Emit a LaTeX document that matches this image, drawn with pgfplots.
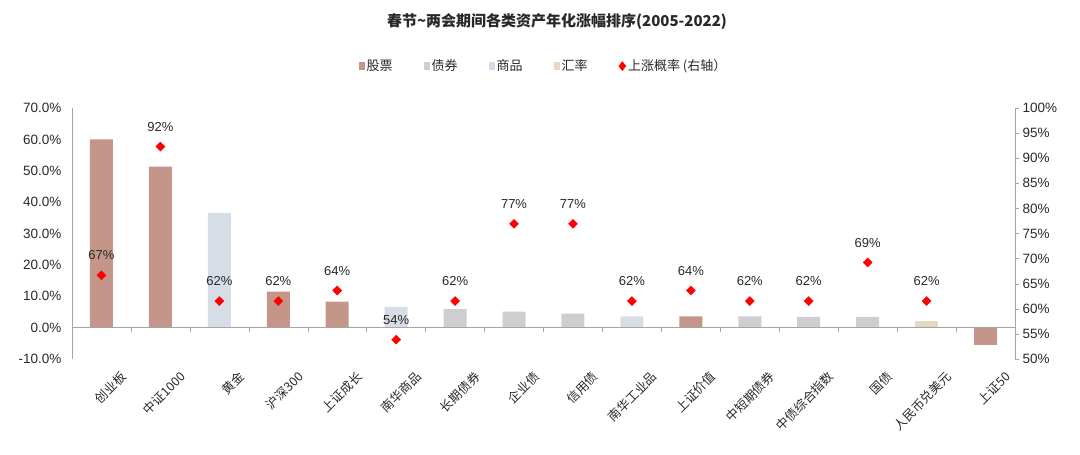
\documentclass[border=0pt]{standalone}
\usepackage{fontspec}
\setmainfont{Liberation Sans}
\newfontfamily\cjk{Noto Sans CJK SC}
\usepackage{pgfplots}
\pgfplotsset{compat=1.18}
\definecolor{gupiao}{RGB}{196,150,137}
\definecolor{zhaiquan}{RGB}{207,205,205}
\definecolor{shangpin}{RGB}{214,221,231}
\definecolor{huilv}{RGB}{231,216,192}
\definecolor{axgray}{RGB}{165,165,165}
\definecolor{txt}{RGB}{40,40,40}
\begin{document}
\begin{tikzpicture}[x=1pt,y=1pt]
\path[use as bounding box] (0,0) rectangle (1080,455);
\node[font=\cjk\bfseries\fontsize{15}{15}\selectfont, text=txt] at (557,433) {春节\textasciitilde 两会期间各类资产年化涨幅排序(2005-2022)};
\begin{axis}[
  at={(72pt,96pt)}, anchor=south west, scale only axis,
  width=943pt, height=251pt,
  xmin=-0.5, xmax=15.5, ymin=-10, ymax=70,
  axis y line*=left, axis x line*=bottom,
  x axis line style={draw=none},
  y axis line style={axgray},
  ytick={-10,0,...,70},
  /pgf/number format/assume math mode=true,
  yticklabel={\pgfmathprintnumber[fixed,fixed zerofill,precision=1]{\tick}\%},
  yticklabel style={font=\fontsize{13.5}{13.5}\selectfont, text=txt, xshift=-7pt},
  major tick length=0pt,
  xtick={0,...,15},
  xticklabels={创业板,中证1000,黄金,沪深300,上证成长,南华商品,长期债券,企业债,信用债,南华工业品,上证价值,中短期债券,中债综合指数,国债,人民币兑美元,上证50},
  xticklabel style={font=\cjk\fontsize{12.5}{12.5}\selectfont, text=txt, rotate=45, anchor=north east, inner sep=0pt, yshift=-21pt, xshift=5pt},
  ybar, bar width=0.39, bar shift=0pt,
  legend style={at={(0.5,1.167)}, anchor=center, draw=none, fill=none,
    legend columns=-1, font=\cjk\fontsize{13}{13}\selectfont, text=txt,
    /tikz/every even column/.append style={column sep=29pt},
    legend cell align=left},
  clip=false,
]
\addplot[fill=gupiao, draw=none, legend image code/.code={\fill[gupiao] (0pt,-4pt) rectangle (6pt,4pt);}]
  coordinates {(0,60.0) (1,51.3) (3,11.5) (4,8.3) (10,3.6) (15,-5.5)};
\addlegendentry{股票}
\addplot[fill=zhaiquan, draw=none, legend image code/.code={\fill[zhaiquan] (0pt,-4pt) rectangle (6pt,4pt);}]
  coordinates {(6,5.9) (7,5.1) (8,4.5) (11,3.6) (12,3.4) (13,3.4)};
\addlegendentry{债券}
\addplot[fill=shangpin, draw=none, legend image code/.code={\fill[shangpin] (0pt,-4pt) rectangle (6pt,4pt);}]
  coordinates {(2,36.6) (5,6.5) (9,3.6)};
\addlegendentry{商品}
\addplot[fill=huilv, draw=none, legend image code/.code={\fill[huilv] (0pt,-4pt) rectangle (6pt,4pt);}]
  coordinates {(14,2.0)};
\addlegendentry{汇率}
\addlegendimage{legend image code/.code={\fill[red] (3pt,4.5pt) -- (6.5pt,0pt) -- (3pt,-4.5pt) -- (-0.5pt,0pt) -- cycle;}}
\addlegendentry{上涨概率 (右轴）}
\draw[axgray] (axis cs:-0.5,0) -- (axis cs:15.5,0);
\pgfplotsinvokeforeach{0.5,1.5,...,14.5}{\draw[axgray] (axis cs:#1,0) -- ++(0pt,-4pt);}
\end{axis}
\begin{axis}[
  at={(72pt,96pt)}, anchor=south west, scale only axis,
  width=943pt, height=251pt,
  xmin=-0.5, xmax=15.5, ymin=50, ymax=100,
  axis y line*=right, axis x line=none,
  y axis line style={axgray},
  ytick={50,55,...,100},
  /pgf/number format/assume math mode=true,
  yticklabel={\pgfmathprintnumber{\tick}\%},
  yticklabel style={font=\fontsize{13.5}{13.5}\selectfont, text=txt},
  ytick style={axgray}, major tick length=4pt, tick align=outside,
  clip=false,
]
\addplot[only marks, mark=square*, mark size=3.2pt, mark options={rotate=45, fill=red, draw=red}, color=red,
  point meta=y,
  nodes near coords={\pgfmathprintnumber[fixed,precision=0]{\pgfplotspointmeta}\%},
  every node near coord/.append style={font=\fontsize{13}{13}\selectfont, text=txt, anchor=south, yshift=13pt, inner sep=2pt}]
  coordinates {(0,66.67) (1,92.31) (2,61.54) (3,61.54) (4,63.64) (5,53.85) (6,61.54) (7,76.92) (8,76.92) (9,61.54) (10,63.64) (11,61.54) (12,61.54) (13,69.23) (14,61.54)};
\end{axis}
\end{tikzpicture}
\end{document}
